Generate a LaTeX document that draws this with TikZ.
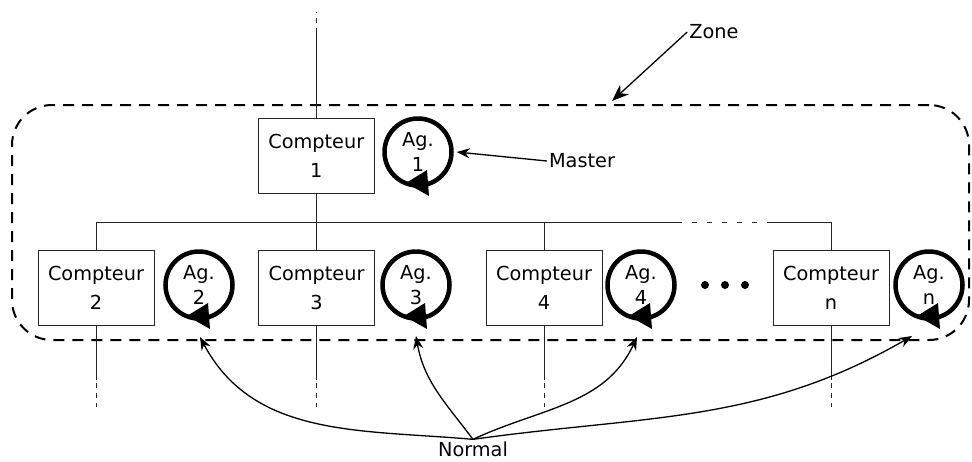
\documentclass[tikz,border=0pt]{standalone}
\usepackage{fontspec}
\setmainfont{DejaVu Sans}
\usetikzlibrary{arrows.meta,calc}
\begin{document}
\begin{tikzpicture}[x=1pt,y=-1pt,
 cbox/.style={draw=black!85,line width=0.9pt,minimum width=116pt,minimum height=75pt,inner sep=0pt,align=center,font=\fontsize{19.3}{29}\selectfont},
 agent/.style={circle,draw,line width=4.5pt,minimum size=67pt,inner sep=0pt,align=center,font=\fontsize{19.3}{25}\selectfont},
 wire/.style={line width=1pt,draw=black!85},
 dwire/.style={line width=1pt,draw=black!85,dash pattern=on 5pt off 5pt},
 zonebox/.style={draw,line width=2pt,dash pattern=on 11pt off 8pt,rounded corners=40pt,minimum width=957pt,minimum height=235pt,inner sep=0pt},
 lbl/.style={font=\fontsize{19.3}{23}\selectfont,inner sep=2pt},
 ptr/.style={line width=1.3pt,-{Stealth[length=13pt,width=10pt]}},
 bigptr/.style={line width=1.3pt,-{Stealth[length=17pt,width=13pt]}},
 dotn/.style={circle,fill,inner sep=0pt,minimum size=8pt}
]
\useasboundingbox (0,0) rectangle (972,461);

% zone
\node[zonebox] (zone) at (490.5,222.5) {};

% counters
\node[cbox] (c1) at (316.3,155.8) {Compteur\\1};
\node[cbox] (c2) at (96,288) {Compteur\\2};
\node[cbox] (c3) at (316.5,288) {Compteur\\3};
\node[cbox] (c4) at (544,288) {Compteur\\4};
\node[cbox] (cn) at (831,288) {Compteur\\n};

% agents
\node[agent] (ag1) at (418,152) {Ag.\\1};
\node[agent] (ag2) at (199,285) {Ag.\\2};
\node[agent] (ag3) at (416,285) {Ag.\\3};
\node[agent] (ag4) at (641,285) {Ag.\\4};
\node[agent] (agn) at (929,285) {Ag.\\n};
\foreach \a in {ag1,ag2,ag3,ag4,agn}{
  \fill ($(\a)+(-12,31)$) -- ($(\a)+(9,18)$) -- ($(\a)+(11,44)$) -- cycle;
}

% dots
\node[dotn] (d1) at (705,285) {};
\node[dotn] (d2) at (725,285) {};
\node[dotn] (d3) at (745,285) {};

% top line
\coordinate (t1) at (316.3,33);
\coordinate (t2) at (316.3,12);
\draw[wire] (c1.north) -- (t1);
\draw[dwire] (t1) -- (t2);

% bus
\coordinate (j1) at (316.3,222.5);
\coordinate (xa) at (682,222.5);
\coordinate (xb) at (767,222.5);
\draw[wire] (c1.south) -- (j1);
\draw[wire] (c2.north) -- (c2.north |- j1) -- (xa);
\draw[wire,dash pattern=on 5pt off 10pt,dash phase=5pt] (xa) -- (xb);
\draw[wire] (xb) -- (cn.north |- j1) -- (cn.north);
\draw[wire] (c3.north) -- (c3.north |- j1);
\draw[wire] (c4.north) -- (c4.north |- j1);

% lines below
\foreach \c in {c2,c3,c4,cn}{
  \draw[wire] (\c.south) -- ++(0,54);
  \draw[dwire] ($(\c.south)+(0,57)$) -- ++(0,24);
}

% labels
\node[lbl] (zonelbl) at (714,32) {Zone};
\coordinate (zt) at (612,101);
\draw[bigptr] (zonelbl.west) -- (zt);

\node[lbl] (master) at (582,161) {Master};
\draw[ptr] (master.west) -- ([xshift=3pt]ag1.east);

\node[lbl] (normal) at (473,449) {Normal};
\coordinate (p2) at (200,337);
\coordinate (p3) at (416,336);
\coordinate (p4) at (637,337);
\coordinate (pn) at (912,336);
\draw[ptr] (normal.north) to[out=175,in=-62] (p2);
\draw[ptr] (normal.north) to[out=127,in=-80] (p3);
\draw[ptr] (normal.north) to[out=25,in=-115] (p4);
\draw[ptr] (normal.north) to[out=8,in=-150] (pn);
\end{tikzpicture}
\end{document}
